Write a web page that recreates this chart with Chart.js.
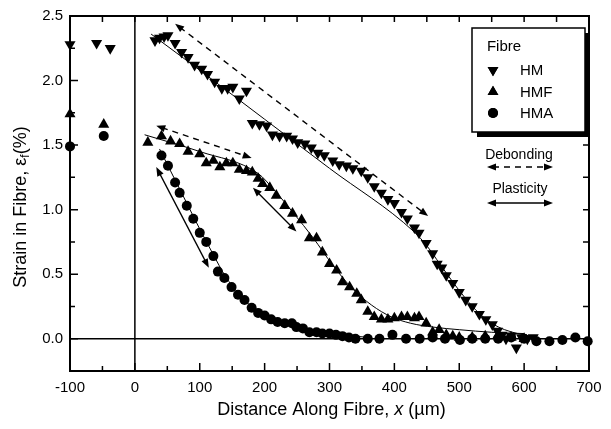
<!DOCTYPE html>
<html lang="en">
<head>
<meta charset="UTF-8">
<title>Strain in Fibre</title>
<script src="https://cdn.jsdelivr.net/npm/chart.js"></script>
<style>
  html, body { margin: 0; padding: 0; background: #fff; }
</style>
</head>
<body>
<canvas id="grafica" width="611" height="429"></canvas>
<script>
// measured points (x in um, strain in %)
const hmX = [-100, -59, -38, 31, 38, 45, 51, 62, 72, 82, 92, 103, 112, 123, 134, 143, 151, 161, 172,
  181, 192, 203, 212, 223, 234, 243, 251, 262, 272, 282, 292, 305, 315, 326, 336, 349, 359, 369, 380, 390,
  400, 411, 420, 431, 438, 449, 459, 466, 473, 480, 490, 500, 510, 520, 531, 541, 551, 559, 566, 572, 580,
  588, 596, 605, 614];
const hmY = [2.28, 2.29, 2.25, 2.31, 2.33, 2.34, 2.35, 2.29, 2.22, 2.18, 2.12, 2.09, 2.05, 1.99, 1.94, 1.94, 1.95, 1.86, 1.92,
  1.67, 1.66, 1.65, 1.58, 1.57, 1.57, 1.55, 1.52, 1.51, 1.48, 1.44, 1.42, 1.38, 1.35, 1.34, 1.32, 1.30, 1.25, 1.18, 1.13, 1.08,
  1.05, 0.98, 0.93, 0.86, 0.82, 0.74, 0.66, 0.58, 0.55, 0.49, 0.43, 0.36, 0.30, 0.25, 0.19, 0.15, 0.11, 0.06, 0.03, 0.00, 0.02,
  -0.07, 0.01, 0.00, 0.01];

const hmfX = [-100, -48, 20, 41, 55, 69, 82, 100, 110, 121, 131, 141, 151, 161, 172, 181, 190, 197, 208, 218,
  231, 243, 257, 269, 280, 289, 300, 311, 320, 331, 342, 349, 359, 369, 380, 390, 400, 411, 420, 431, 438,
  449, 459, 469, 480, 490, 500, 520, 540, 560, 580, 600];
const hmfY = [1.74, 1.66, 1.52, 1.57, 1.53, 1.51, 1.45, 1.43, 1.36, 1.38, 1.33, 1.36, 1.36, 1.31, 1.30, 1.29, 1.24, 1.20, 1.17, 1.11,
  1.03, 0.97, 0.92, 0.78, 0.78, 0.67, 0.58, 0.53, 0.44, 0.40, 0.35, 0.30, 0.21, 0.17, 0.15, 0.15, 0.16, 0.17, 0.17, 0.16, 0.17,
  0.12, 0.05, 0.07, 0.03, 0.02, 0.01, 0.01, 0.02, 0.03, 0.01, 0.00];

const hmaX = [-100, -48, 41, 51, 62, 69, 80, 90, 100, 110, 121, 128, 138, 149, 159, 169, 180, 190, 200, 210,
  220, 231, 242, 249, 259, 269, 280, 289, 300, 310, 320, 330, 340, 359, 377, 397, 418, 439, 459, 478,
  501, 520, 540, 560, 580, 600, 619, 639, 659, 679, 698];
const hmaY = [1.49, 1.57, 1.42, 1.34, 1.21, 1.13, 1.03, 0.93, 0.82, 0.75, 0.64, 0.52, 0.47, 0.40, 0.34, 0.30, 0.24, 0.20, 0.18, 0.15,
  0.13, 0.12, 0.12, 0.09, 0.08, 0.05, 0.05, 0.04, 0.04, 0.03, 0.02, 0.01, 0.00, 0.00, 0.00, 0.03, 0.00, 0.00, 0.01, 0.00,
  -0.01, 0.00, 0.00, 0.00, 0.01, 0.00, -0.02, -0.02, -0.01, 0.01, -0.02];

// fitted curves
const hmFitX = [25, 100, 200, 300, 430, 450, 470, 490, 510, 530, 550, 570, 590, 610];
const hmFitY = [2.36, 2.08, 1.70, 1.32, 0.83, 0.72, 0.58, 0.44, 0.31, 0.20, 0.12, 0.07, 0.04, 0.02];
const hmfFitX = [15, 100, 190, 215, 245, 275, 305, 335, 365, 395, 425, 460, 500, 550, 600];
const hmfFitY = [1.58, 1.45, 1.28, 1.15, 0.97, 0.78, 0.57, 0.39, 0.26, 0.17, 0.12, 0.09, 0.07, 0.05, 0.04];
const hmaFitX = [38, 60, 80, 100, 120, 140, 160, 180, 200, 220, 250, 280, 320, 360];
const hmaFitY = [1.47, 1.25, 1.05, 0.85, 0.66, 0.48, 0.35, 0.25, 0.18, 0.13, 0.09, 0.06, 0.03, 0.01];

// annotation arrows [x1, y1, x2, y2]
const debondArrows = [[62, 2.44, 452, 0.95], [33, 1.65, 180, 1.40]];
const plasticArrows = [[33, 1.33, 114, 0.55], [182, 1.17, 249, 0.83]];

const xTicks = [-100, 0, 100, 200, 300, 400, 500, 600, 700];
const yTicks = [0, 0.5, 1.0, 1.5, 2.0, 2.5];
const seriesNames = ['HM', 'HMF', 'HMA'];

const FONT = '"Liberation Sans", Arial, sans-serif';

function pts(xs, ys) {
  return xs.map((x, i) => ({ x, y: ys[i] }));
}

function arrowHead(ctx, x1, y1, x2, y2) {
  const a = Math.atan2(y2 - y1, x2 - x1);
  const len = 9, w = 3.5;
  ctx.beginPath();
  ctx.moveTo(x2, y2);
  ctx.lineTo(x2 - len * Math.cos(a) + w * Math.sin(a), y2 - len * Math.sin(a) - w * Math.cos(a));
  ctx.lineTo(x2 - len * Math.cos(a) - w * Math.sin(a), y2 - len * Math.sin(a) + w * Math.cos(a));
  ctx.closePath();
  ctx.fill();
}

function doubleArrow(ctx, x1, y1, x2, y2, dashed) {
  ctx.save();
  ctx.strokeStyle = '#000';
  ctx.fillStyle = '#000';
  ctx.lineWidth = dashed ? 1.4 : 1.3;
  const a = Math.atan2(y2 - y1, x2 - x1);
  ctx.setLineDash(dashed ? [6, 5] : []);
  ctx.beginPath();
  ctx.moveTo(x1 + 6 * Math.cos(a), y1 + 6 * Math.sin(a));
  ctx.lineTo(x2 - 6 * Math.cos(a), y2 - 6 * Math.sin(a));
  ctx.stroke();
  ctx.setLineDash([]);
  arrowHead(ctx, x1, y1, x2, y2);
  arrowHead(ctx, x2, y2, x1, y1);
  ctx.restore();
}

// frame, inward ticks and zero lines
const framePlugin = {
  id: 'frame',
  beforeDatasetsDraw(chart) {
    const { ctx, chartArea: a, scales: { x, y } } = chart;
    ctx.save();
    ctx.strokeStyle = '#000';
    ctx.lineWidth = 1.5;
    ctx.beginPath();
    ctx.moveTo(x.getPixelForValue(0), a.top);
    ctx.lineTo(x.getPixelForValue(0), a.bottom);
    ctx.moveTo(a.left, y.getPixelForValue(0));
    ctx.lineTo(a.right, y.getPixelForValue(0));
    ctx.stroke();

    ctx.lineWidth = 2;
    ctx.strokeRect(a.left, a.top, a.right - a.left, a.bottom - a.top);
    ctx.lineWidth = 1.5;
    ctx.beginPath();
    for (let v = -100; v <= 700; v += 50) {
      const px = x.getPixelForValue(v);
      const L = v % 100 === 0 ? 8 : 5;
      ctx.moveTo(px, a.bottom); ctx.lineTo(px, a.bottom - L);
      ctx.moveTo(px, a.top); ctx.lineTo(px, a.top + 6);
    }
    for (let v = -0.25; v <= 2.5001; v += 0.25) {
      const py = y.getPixelForValue(v);
      const L = Math.abs(v * 2 - Math.round(v * 2)) < 0.01 ? 8 : 5;
      ctx.moveTo(a.left, py); ctx.lineTo(a.left + L, py);
      ctx.moveTo(a.right, py); ctx.lineTo(a.right - 6, py);
    }
    ctx.stroke();
    ctx.restore();
  }
};

// arrows, legend and axis titles
const annotPlugin = {
  id: 'annot',
  afterDraw(chart) {
    const { ctx, scales: { x, y }, chartArea: a } = chart;
    debondArrows.forEach(p => doubleArrow(ctx, x.getPixelForValue(p[0]), y.getPixelForValue(p[1]),
      x.getPixelForValue(p[2]), y.getPixelForValue(p[3]), true));
    plasticArrows.forEach(p => doubleArrow(ctx, x.getPixelForValue(p[0]), y.getPixelForValue(p[1]),
      x.getPixelForValue(p[2]), y.getPixelForValue(p[3]), false));

    // legend box with shadow
    ctx.save();
    const bx = 472, by = 28, bw = 113, bh = 104;
    ctx.fillStyle = '#000';
    ctx.fillRect(bx + 5, by + 5, bw, bh);
    ctx.fillStyle = '#fff';
    ctx.fillRect(bx, by, bw, bh);
    ctx.strokeStyle = '#000';
    ctx.lineWidth = 1.5;
    ctx.strokeRect(bx, by, bw, bh);
    ctx.fillStyle = '#000';
    ctx.font = '15px ' + FONT;
    ctx.textBaseline = 'middle';
    ctx.textAlign = 'center';
    ctx.fillText('Fibre', 504, 47);
    ctx.textAlign = 'left';
    const rows = [70, 92, 113];
    chart.data.datasets.slice(0, 3).forEach((ds, i) => {
      Chart.helpers.drawPoint(ctx, {
        pointStyle: ds.pointStyle, radius: i === 2 ? 5 : 6.2, rotation: ds.rotation || 0,
        borderWidth: 0
      }, 493, rows[i]);
      ctx.fill();
      ctx.fillText(seriesNames[i], 520, rows[i] + 1);
    });

    ctx.font = '14px ' + FONT;
    ctx.textAlign = 'center';
    ctx.fillText('Debonding', 519, 155);
    ctx.fillText('Plasticity', 520, 189);
    ctx.restore();
    doubleArrow(ctx, 487, 167, 553, 167, true);
    doubleArrow(ctx, 487, 203, 553, 203, false);

    // axis titles
    ctx.save();
    ctx.fillStyle = '#000';
    ctx.textBaseline = 'middle';
    const f1 = '18px ' + FONT, fi = 'italic 18px ' + FONT;
    const p1 = 'Distance Along Fibre, ', p2 = 'x', p3 = ' (\u00b5m)';
    ctx.font = f1;
    const w1 = ctx.measureText(p1).width, w3 = ctx.measureText(p3).width;
    ctx.font = fi;
    const w2 = ctx.measureText(p2).width;
    let sx = (a.left + a.right) / 2 + 2 - (w1 + w2 + w3) / 2;
    ctx.textAlign = 'left';
    ctx.font = f1; ctx.fillText(p1, sx, 410);
    ctx.font = fi; ctx.fillText(p2, sx + w1, 410);
    ctx.font = f1; ctx.fillText(p3, sx + w1 + w2, 410);

    ctx.translate(21, 207);
    ctx.rotate(-Math.PI / 2);
    const q1 = 'Strain in Fibre, \u03b5', q2 = 'f', q3 = '(%)';
    const fs = '12px ' + FONT;
    ctx.font = f1;
    const v1 = ctx.measureText(q1).width, v3 = ctx.measureText(q3).width;
    ctx.font = fs;
    const v2 = ctx.measureText(q2).width;
    let sy = -(v1 + v2 + v3) / 2;
    ctx.font = f1; ctx.fillText(q1, sy, 0);
    ctx.font = fs; ctx.fillText(q2, sy + v1, 5);
    ctx.font = f1; ctx.fillText(q3, sy + v1 + v2, 0);
    ctx.restore();
  }
};

const fitStyle = {
  showLine: true, pointRadius: 0, borderColor: '#000', borderWidth: 1,
  cubicInterpolationMode: 'monotone', fill: false
};

new Chart(document.getElementById('grafica'), {
  type: 'scatter',
  data: {
    datasets: [
      { label: 'HM', data: pts(hmX, hmY), pointStyle: 'triangle', rotation: 180, pointRadius: 6.4,
        backgroundColor: '#000', borderColor: '#000', borderWidth: 0, clip: false },
      { label: 'HMF', data: pts(hmfX, hmfY), pointStyle: 'triangle', pointRadius: 6.4,
        backgroundColor: '#000', borderColor: '#000', borderWidth: 0, clip: false },
      { label: 'HMA', data: pts(hmaX, hmaY), pointStyle: 'circle', pointRadius: 5,
        backgroundColor: '#000', borderColor: '#000', borderWidth: 0, clip: false },
      { label: 'HM fit', data: pts(hmFitX, hmFitY), ...fitStyle },
      { label: 'HMF fit', data: pts(hmfFitX, hmfFitY), ...fitStyle },
      { label: 'HMA fit', data: pts(hmaFitX, hmaFitY), ...fitStyle }
    ]
  },
  options: {
    responsive: false,
    animation: false,
    layout: { padding: { top: 14, right: 22, left: 0, bottom: 0 } },
    plugins: { legend: { display: false }, tooltip: { enabled: false } },
    scales: {
      x: {
        type: 'linear', min: -100, max: 700,
        afterBuildTicks: s => { s.ticks = xTicks.map(v => ({ value: v })); },
        afterFit: s => { s.height = 58; },
        grid: { display: false, drawTicks: false },
        border: { display: false },
        ticks: { color: '#000', padding: 8, font: { family: FONT, size: 15 }, maxRotation: 0 }
      },
      y: {
        type: 'linear', min: -0.25, max: 2.5,
        afterBuildTicks: s => { s.ticks = yTicks.map(v => ({ value: v })); },
        afterFit: s => { s.width = 70; },
        grid: { display: false, drawTicks: false },
        border: { display: false },
        ticks: { color: '#000', padding: 7, font: { family: FONT, size: 15 },
          callback: v => v.toFixed(1) }
      }
    }
  },
  plugins: [framePlugin, annotPlugin]
});
</script>
</body>
</html>
